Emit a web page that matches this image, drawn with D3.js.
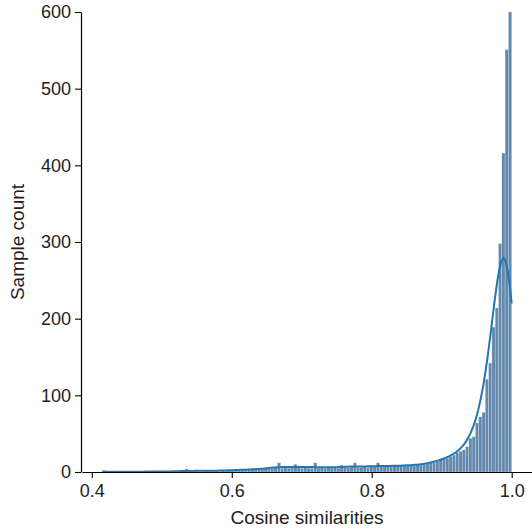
<!DOCTYPE html>
<html>
<head>
<meta charset="utf-8">
<script src="https://cdn.jsdelivr.net/npm/d3@7"></script>
<style>
  body { margin: 0; background: #fff; }
  svg { display: block; font-family: "Liberation Sans", Arial, sans-serif; }
</style>
</head>
<body>
<svg id="chart" width="532" height="529"></svg>
<script>
// histogram bins: range of the data, and the count in each equal-width bin
let binLo = 0.415;
let binHi = 1.0;
let counts = [
    2,0,0,1,0,0,1,0,1,0, 0,1,0,1,0,1,1,0,1,1,
    0,1,1,0,1,4,1,1,2,1, 1,2,1,2,2,1,2,2,3,2,
    3,2,3,3,4,3,3,4,4,5, 4,5,6,12,5,6,5,7,10,6,
    5,6,5,5,12,5,6,5,6,5, 6,5,9,6,6,7,12,6,6,7,
    6,7,7,12,7,7,8,7,8,8, 9,8,9,
    9,8,10,9,10,11,12,12,14,16, 18,18,20,22,25,27,29,33,44,46,
    64,72,78,121,142,189,214,298,416,551, 600
];
let xTicks = [0.4, 0.6, 0.8, 1.0];
let yTicks = [0, 100, 200, 300, 400, 500, 600];
let xLabel = "Cosine similarities";
let yLabel = "Sample count";

let svg = d3.select("#chart");
let margin = {top: 12, right: 0, bottom: 57, left: 81};
let W = +svg.attr("width"), H = +svg.attr("height");

let binW = (binHi - binLo) / counts.length;
let bins = counts.map((c, i) => ({x0: binLo + i * binW, x1: binLo + (i + 1) * binW, n: c}));

let x = d3.scaleLinear().domain([0.386, 1.029]).range([margin.left + 1, W - margin.right]);
let y = d3.scaleLinear().domain([0, 600]).range([H - margin.bottom, margin.top]);

// bars
svg.append("g").selectAll("rect")
    .data(bins).enter().append("rect")
    .attr("x", d => x(d.x0))
    .attr("width", d => Math.max(0, x(d.x1) - x(d.x0)))
    .attr("y", d => y(d.n))
    .attr("height", d => y(0) - y(d.n))
    .style("fill", "#6489ad")
    .style("stroke", "rgba(255,255,255,0.45)")
    .style("stroke-width", 0.5);

// kde (gaussian, scott bandwidth, cut at data range), scaled to counts
let N = d3.sum(counts);
let centers = bins.map(b => (b.x0 + b.x1) / 2);
let mean = d3.sum(bins, (b, i) => b.n * centers[i]) / N;
let sd = Math.sqrt(d3.sum(bins, (b, i) => b.n * (centers[i] - mean) ** 2) / (N - 1));
let bwAdjust = 0.82;
let bw = bwAdjust * sd * Math.pow(N, -0.2);
let grid = d3.range(200).map(i => binLo + (binHi - binLo) * i / 199);
let kde = grid.map(g => {
    let s = 0;
    for (let i = 0; i < bins.length; i++) {
        if (!bins[i].n) continue;
        let u = (g - centers[i]) / bw;
        s += bins[i].n * Math.exp(-0.5 * u * u);
    }
    return [g, s / (bw * Math.sqrt(2 * Math.PI)) * binW];
});

svg.append("path")
    .datum(kde)
    .attr("fill", "none")
    .attr("stroke", "#1f77b4")
    .attr("stroke-width", 2)
    .attr("d", d3.line().x(d => x(d[0])).y(d => y(d[1])));

// axes
let xAxis = svg.append("g")
    .attr("transform", `translate(0,${y(0)})`)
    .call(d3.axisBottom(x).tickValues(xTicks).tickFormat(d3.format(".1f")).tickSize(6).tickSizeOuter(0));
let yAxis = svg.append("g")
    .attr("transform", `translate(${margin.left},0)`)
    .call(d3.axisLeft(y).tickValues(yTicks).tickSize(6).tickSizeOuter(0));

[xAxis, yAxis].forEach(a => {
    a.select(".domain").attr("stroke", "#000").attr("stroke-width", 1.2);
    a.selectAll(".tick line").attr("stroke", "#000").attr("stroke-width", 1.1);
    a.selectAll(".tick text").attr("fill", "#222").style("font-size", "18px")
        .style("font-family", "'Liberation Sans', Arial, sans-serif");
});
xAxis.selectAll(".tick text").attr("dy", "0.9em");
yAxis.selectAll(".tick text").attr("x", -10);

svg.append("text")
    .attr("x", (x(0.386) + x(1.029)) / 2)
    .attr("y", 524)
    .attr("text-anchor", "middle")
    .attr("fill", "#222")
    .style("font-size", "19px")
    .text(xLabel);

svg.append("text")
    .attr("transform", `translate(24,${y(300)}) rotate(-90)`)
    .attr("text-anchor", "middle")
    .attr("fill", "#222")
    .style("font-size", "19px")
    .text(yLabel);
</script>
</body>
</html>
